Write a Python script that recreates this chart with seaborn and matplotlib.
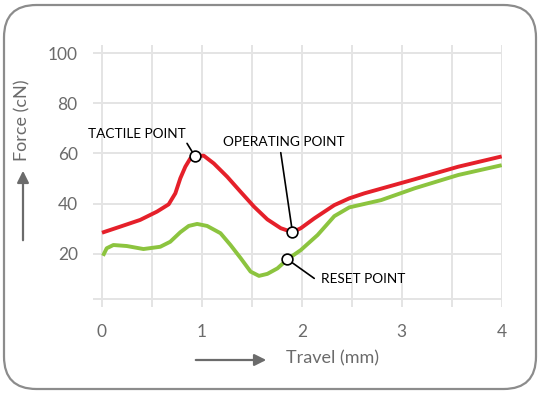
import matplotlib
matplotlib.use("Agg")
import matplotlib.pyplot as plt
import seaborn as sns
import pandas as pd
from matplotlib.patches import FancyBboxPatch, FancyArrowPatch

# ---- data ----
red_travel = [0.0, 0.181, 0.382, 0.55, 0.667, 0.734, 0.784, 0.834, 0.884, 0.928, 1.018,
              1.119, 1.253, 1.387, 1.521, 1.655, 1.789, 1.906, 1.99, 2.124, 2.325,
              2.475, 2.626, 3.129, 3.565, 4.0]
red_force = [28.4, 30.8, 33.5, 36.8, 39.7, 44.1, 50.1, 54.7, 58.0, 59.0, 59.1,
             56.0, 50.7, 44.7, 38.8, 33.7, 30.2, 28.6, 30.2, 34.1, 39.4,
             42.1, 44.1, 49.7, 54.7, 58.8]
green_travel = [0.01, 0.047, 0.114, 0.248, 0.415, 0.583, 0.683, 0.784, 0.868, 0.952,
                1.052, 1.186, 1.286, 1.387, 1.487, 1.571, 1.655, 1.756, 1.856, 1.99,
                2.158, 2.325, 2.475, 2.794, 3.129, 3.565, 4.0]
green_force = [19.2, 22.2, 23.5, 23.1, 21.9, 22.8, 24.8, 28.6, 31.1, 31.9,
               31.1, 28.2, 23.5, 18.3, 12.9, 11.2, 12.0, 14.2, 17.8, 21.5,
               27.5, 35.0, 38.5, 41.4, 46.1, 51.4, 55.3]
point_names = ["TACTILE POINT", "OPERATING POINT", "RESET POINT"]
point_travel = [0.928, 1.906, 1.856]
point_force = [59.0, 28.6, 17.8]
x_ticks = [0, 1, 2, 3, 4]
y_ticks = [20, 40, 60, 80, 100]

df = pd.concat([
    pd.DataFrame({"travel": red_travel, "force": red_force, "curve": "press"}),
    pd.DataFrame({"travel": green_travel, "force": green_force, "curve": "release"}),
])
pts = pd.DataFrame({"travel": point_travel, "force": point_force, "name": point_names})

RED = "#e5202a"
GREEN = "#8cc43f"
GRID = "#e4e4e4"
TXT = "#6b6b6b"

sns.set_theme(style="white")
plt.rcParams["font.family"] = ["Lato", "DejaVu Sans"]

fig = plt.figure(figsize=(5.4, 3.94), dpi=100)
# rounded frame
frame = FancyBboxPatch((4 / 540, 5 / 394), 532 / 540, 384 / 394,
                       boxstyle="round,pad=0,rounding_size=0.06",
                       transform=fig.transFigure, facecolor="none",
                       edgecolor="#8c8c8c", linewidth=1.6, mutation_aspect=540 / 394,
                       zorder=-1)
fig.patches.append(frame)

ax = fig.add_axes([93 / 540, 87 / 394, 408.7 / 540, 262 / 394], zorder=2)
ax.set_facecolor("none")
ax.set_xlim(-0.09, 4.0)
ax.set_ylim(-1.2, 103.2)

# grid
for xv in [i * 0.5 for i in range(9)]:
    ax.axvline(xv, color=GRID, lw=1.4, zorder=1)
for yv in [2] + y_ticks:
    ax.axhline(yv, color=GRID, lw=1.4, zorder=1)

sns.lineplot(data=df, x="travel", y="force", hue="curve", palette=[RED, GREEN],
             sort=False, estimator=None, lw=2.8, legend=False, ax=ax, zorder=3)
for ln in ax.get_lines()[-2:]:
    ln.set_solid_capstyle("butt")
    ln.set_solid_joinstyle("round")

# leaders
leaders = {
    "TACTILE POINT": ((0.928, 59.0), (0.851, 64.0)),
    "OPERATING POINT": ((1.906, 28.6), (1.789, 60.3)),
    "RESET POINT": ((1.856, 17.8), (2.124, 10.2)),
}
for name, (xy, end) in leaders.items():
    ax.annotate("", xy=xy, xytext=end,
                arrowprops=dict(arrowstyle="-", color="black", lw=1.2,
                                shrinkA=0, shrinkB=0), zorder=4)

sns.scatterplot(data=pts, x="travel", y="force", s=60, color="white",
                edgecolor="black", linewidth=1.2, ax=ax, zorder=5, legend=False)

ax.text(0.352, 67.9, "TACTILE POINT", ha="center", va="center", fontsize=9.8, color="black")
ax.text(1.824, 64.6, "OPERATING POINT", ha="center", va="center", fontsize=9.8, color="black")
ax.text(2.618, 9.9, "RESET POINT", ha="center", va="center", fontsize=9.8, color="black")

ax.set_xticks(x_ticks)
ax.set_yticks(y_ticks)
ax.set_xticklabels([str(v) for v in x_ticks])
ax.set_yticklabels([str(v) for v in y_ticks])
ax.tick_params(axis="both", length=0, labelsize=12.5, labelcolor=TXT)
ax.tick_params(axis="x", pad=12)
ax.tick_params(axis="y", pad=11)
for s in ax.spines.values():
    s.set_visible(False)
ax.set_xlabel("")
ax.set_ylabel("")

# axis titles with arrows
fig.text(333 / 540, 1 - 358 / 394, "Travel (mm)", ha="center", va="center",
         fontsize=13, color=TXT)
fig.text(22 / 540, 1 - 120 / 394, "Force (cN)", ha="center", va="center",
         fontsize=13, color=TXT, rotation=90)
fig.patches.append(FancyArrowPatch((193 / 540, 1 - 360 / 394), (269 / 540, 1 - 360 / 394),
                                   transform=fig.transFigure, arrowstyle="-|>,head_length=7,head_width=3.5",
                                   color="#6b6b6b", lw=1.6, mutation_scale=1))
fig.patches.append(FancyArrowPatch((23 / 540, 1 - 243 / 394), (23 / 540, 1 - 168 / 394),
                                   transform=fig.transFigure, arrowstyle="-|>,head_length=7,head_width=3.5",
                                   color="#6b6b6b", lw=1.6, mutation_scale=1))

fig.savefig("out.png", dpi=100, facecolor="white")
